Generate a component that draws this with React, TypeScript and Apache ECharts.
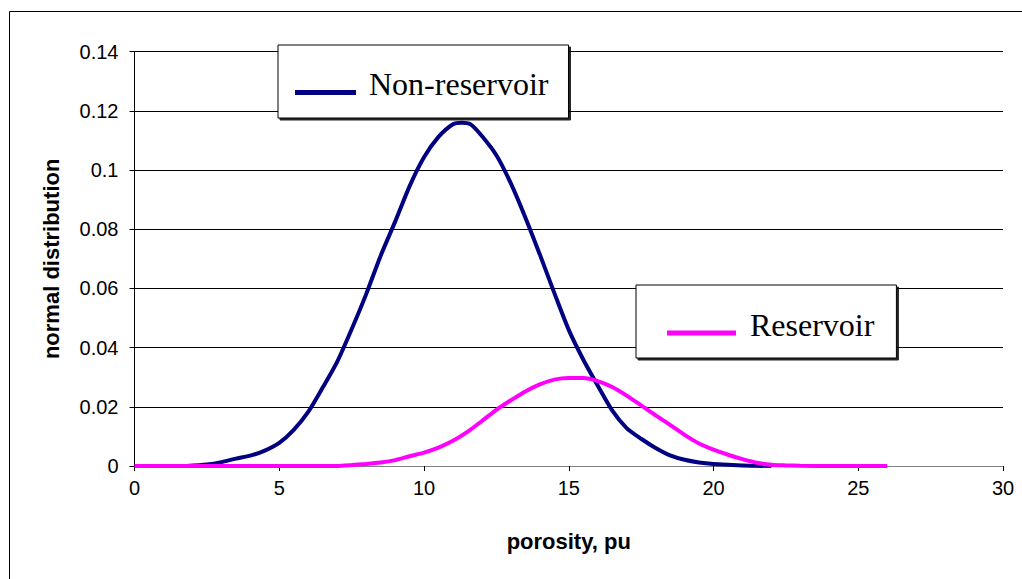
import React, { useEffect, useRef } from "react";
import * as echarts from "echarts";

// Non-reservoir curve (porosity, normal distribution value)
const nonResX = [1.8, 2.5, 3.0, 3.5, 4.0, 4.5, 5.0, 5.5, 6.0, 6.5, 7.0, 7.5, 8.0, 8.5, 9.0, 9.5, 10.0, 10.5, 11.0, 11.3, 11.6, 12.0, 12.5, 13.0, 13.5, 14.0, 14.5, 15.0, 15.5, 16.0, 16.5, 17.0, 17.5, 18.0, 18.5, 19.0, 19.5, 20.0, 21.0, 22.0];
const nonResY = [0.0, 0.0005, 0.0013, 0.0025, 0.0035, 0.0052, 0.0078, 0.0122, 0.0183, 0.0265, 0.0352, 0.0462, 0.058, 0.071, 0.0825, 0.0945, 0.1043, 0.1112, 0.1155, 0.116, 0.1155, 0.1115, 0.105, 0.0955, 0.084, 0.0715, 0.0585, 0.046, 0.036, 0.0272, 0.0188, 0.0128, 0.0092, 0.0061, 0.0036, 0.0021, 0.0012, 0.0007, 0.0002, 0.0];

// Reservoir curve
const resX = [0.0, 7.0, 7.5, 8.0, 8.5, 9.0, 9.5, 10.0, 10.5, 11.0, 11.5, 12.0, 12.5, 13.0, 13.5, 14.0, 14.5, 15.0, 15.5, 16.0, 16.5, 17.0, 17.5, 18.0, 18.5, 19.0, 19.5, 20.0, 20.5, 21.0, 21.5, 22.0, 22.5, 23.0, 24.0, 26.0];
const resY = [0.0, 0.0, 0.0003, 0.0007, 0.0012, 0.002, 0.0033, 0.0045, 0.0062, 0.0085, 0.0115, 0.0152, 0.019, 0.0222, 0.0252, 0.0276, 0.0292, 0.0297, 0.0297, 0.0287, 0.0267, 0.0238, 0.0205, 0.0171, 0.0139, 0.0105, 0.0076, 0.0055, 0.0038, 0.0023, 0.0011, 0.0004, 0.0002, 0.0001, 0.0, 0.0];

const seriesNames = ["Non-reservoir", "Reservoir"];
const seriesColors = ["#000080", "#FF00FF"];
const xTitle = "porosity, pu";
const yTitle = "normal distribution";

export default function App() {
  const ref = useRef<HTMLDivElement>(null);
  useEffect(() => {
    if (!ref.current) return;
    const chart = echarts.init(ref.current, undefined, { renderer: "svg" });
    const nonData = nonResX.map((x, i) => [x, nonResY[i]]);
    const resData = resX.map((x, i) => [x, resY[i]]);
    const legendBase = {
      orient: "horizontal" as const,
      selectedMode: false,
      backgroundColor: "#ffffff",
      borderColor: "#000000",
      borderWidth: 1,
      shadowColor: "rgba(0,0,0,0.85)",
      shadowOffsetX: 2,
      shadowOffsetY: 2,
      shadowBlur: 0,
      itemHeight: 22,
      symbolKeepAspect: false,
      itemStyle: { borderWidth: 0 },
    };
    chart.setOption({
      animation: false,
      backgroundColor: "#ffffff",
      grid: { left: 134.5, right: 19, top: 51.7, bottom: 113, containLabel: false },
      graphic: [
        {
          type: "rect",
          shape: { x: 9.5, y: 11.5, width: 1100, height: 700 },
          style: { fill: "none", stroke: "#000", lineWidth: 1 },
          silent: true,
          z: -10,
        },
      ],
      legend: [
        {
          ...legendBase,
          data: [seriesNames[0]],
          left: 278,
          top: 45,
          itemWidth: 61,
          icon: "path://M0,0L61,0L61,0.01L0,0.01ZM0,17L61,17L61,22L0,22Z",
          padding: [23, 20, 18, 17],
          textStyle: {
            fontFamily: "Liberation Serif",
            fontSize: 32,
            lineHeight: 32,
            color: "#000",
            padding: [0, 0, 0, 8],
          },
        },
        {
          ...legendBase,
          data: [seriesNames[1]],
          left: 636,
          top: 285,
          itemWidth: 69,
          icon: "path://M0,0L69,0L69,0.01L0,0.01ZM0,17L69,17L69,22L0,22Z",
          padding: [23.5, 22, 17.5, 31],
          textStyle: {
            fontFamily: "Liberation Serif",
            fontSize: 32,
            lineHeight: 32,
            color: "#000",
            padding: [0, 0, 0, 9],
          },
        },
      ],
      xAxis: {
        type: "value",
        min: 0,
        max: 30,
        interval: 5,
        name: xTitle,
        nameLocation: "middle",
        nameGap: 64,
        nameTextStyle: { fontFamily: "Liberation Sans", fontSize: 22, fontWeight: "bold", color: "#000" },
        axisLine: { show: true, onZero: false, lineStyle: { color: "#808080", width: 1 } },
        axisTick: { show: true, length: 5, lineStyle: { color: "#000" } },
        axisLabel: { fontFamily: "Liberation Sans", fontSize: 20, color: "#000", margin: 12 },
        splitLine: { show: false },
      },
      yAxis: {
        type: "value",
        min: 0,
        max: 0.14,
        interval: 0.02,
        name: yTitle,
        nameLocation: "middle",
        nameGap: 72,
        nameTextStyle: { fontFamily: "Liberation Sans", fontSize: 22, fontWeight: "bold", color: "#000" },
        axisLine: { show: true, lineStyle: { color: "#000", width: 1 } },
        axisTick: { show: true, length: 5, lineStyle: { color: "#000" } },
        axisLabel: { fontFamily: "Liberation Sans", fontSize: 20, color: "#000", margin: 16 },
        splitLine: { show: true, lineStyle: { color: "#000", width: 1 } },
      },
      series: [
        {
          name: seriesNames[0],
          type: "line",
          data: nonData,
          showSymbol: false,
          smooth: 0.25,
          color: seriesColors[0],
          lineStyle: { color: seriesColors[0], width: 4 },
        },
        {
          name: seriesNames[1],
          type: "line",
          data: resData,
          showSymbol: false,
          smooth: 0.25,
          color: seriesColors[1],
          lineStyle: { color: seriesColors[1], width: 4 },
        },
      ],
    });
    return () => chart.dispose();
  }, []);
  return (
    <div
      ref={ref}
      style={{ position: "fixed", left: 0, top: 0, width: 1022, height: 579, background: "#fff" }}
    />
  );
}
